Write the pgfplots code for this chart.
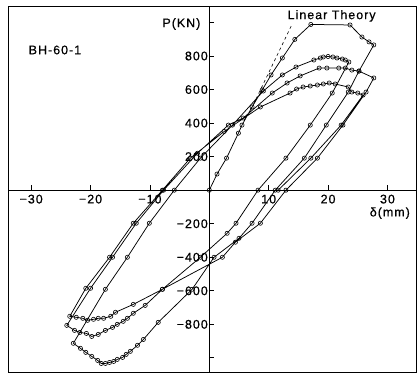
\documentclass[border=0pt]{standalone}
\usepackage{pgfplots}
\pgfplotsset{compat=1.18}
\usepackage{fontspec}
\setmainfont{Liberation Sans}[LetterSpace=8, FakeBold=0.6]
\begin{document}
\begin{tikzpicture}
\begin{axis}[
 scale only axis, width=408bp, height=366bp,
 xmin=-33.9, xmax=34.9, ymin=-1087, ymax=1098,
 axis lines=middle, axis line style={-, line width=0.9pt},
 xtick={-30,-20,-10,0,10,20,30},
 xticklabels={−30,−20,−10,\llap{0\hspace{3bp}},10,20,30},
 ytick={-1000,-800,-600,-400,-200,200,400,600,800,1000},
 yticklabels={,−800,−600,−400,−200,200,400,600,800,},
 tick align=inside, major tick length=5bp,
 tick style={black, line width=0.8pt},
 ticklabel style={font=\fontsize{12.5}{13}\selectfont},
 xticklabel style={yshift=-1bp},
 yticklabel style={xshift=2bp},
 clip=false,
]
\draw[line width=0.9pt] (rel axis cs:0,0) rectangle (rel axis cs:1,1);
\path (rel axis cs:0,0) ++(-8bp,-2bp);
\path (rel axis cs:1,1) ++(0bp,6bp);
\addplot[black, dashed, line width=0.6pt] coordinates {(7.0,480) (13.8,979)};
\addplot[black, line width=0.75pt, mark=o, mark size=2.1bp, mark options={fill=white, line width=0.6pt, solid}] coordinates {
(0,0) (1.3,96) (2.9,191) (4.9,340) (5.5,388) (7.2,496) (8.9,597) (10.4,687) (12.3,788) (14.4,899) (17.1,988) (23.7,985) (25.7,913) (26.9,884) (27.7,866)
(25.2,710) (23.4,585) (19.7,388) (16,191) (11.1,0) (7.2,-197) (5,-287) (0.8,-400) (-2.9,-591) (-8.6,-788) (-11.1,-890) (-12.1,-925) (-13.3,-961) (-14,-979) (-14.6,-997) (-15.5,-1009) (-16.1,-1021) (-16.8,-1027) (-17.5,-1033) (-18.2,-1033) (-18.8,-1015) (-19.8,-991) (-20.8,-967) (-21.7,-943) (-22.9,-913)
(-17.5,-591) (-13.8,-400) (-10.1,-197) (-5.9,0) (-1.5,191) (3.9,388) (9.1,591)
(12.3,687) (14.6,734) (17.6,776) (18.7,788) (19.2,794) (20,797) (20.8,794) (21.5,788) (22.4,782) (22.9,776) (23.5,764)
(20.7,579) (17,388) (12.9,191) (8.2,0) (4.5,-197) (3,-257) (-1.5,-400) (-7.9,-591)
(-10.8,-687) (-12.8,-734) (-13.8,-764) (-14.5,-782) (-15.5,-800) (-16.3,-818) (-17.5,-836) (-18.7,-860) (-19.8,-872) (-20.7,-854) (-21.8,-848) (-22.7,-836) (-24,-806)
(-20,-585) (-16.3,-400) (-12.3,-197) (-7.7,0) (-2,220) (3.2,388) (5.7,430) (10.6,579) (13.1,639) (15.3,681) (18.5,728) (19.8,728) (21.8,728) (22.9,728) (24,716) (25.2,710) (27.7,669)
(26.4,585) (22.5,388) (18.2,191) (12.9,0) (8.6,-197) (4.4,-310) (2.2,-400) (-7.9,-591)
(-12.8,-681) (-15.8,-728) (-16.6,-752) (-17.8,-764) (-18.7,-764) (-19.5,-770) (-20.5,-776) (-21.3,-764) (-22.4,-758) (-23.5,-752)
(-20.8,-585) (-16.8,-400) (-12.8,-197) (-7.9,0) (-3.2,191) (2.5,350) (8.6,496) (13.6,579) (14.7,603) (15.8,615) (17,621) (18.2,627) (19.2,633) (20.2,639) (21.2,633) (23.4,615) (24,585) (25,579) (25.9,567)
(22.2,388) (17.1,191) (11.6,0)
};
\node[font=\fontsize{12.5}{13}\selectfont] at (axis cs:-4.7,991) {P(KN)};
\node[font=\fontsize{12.5}{13}\selectfont] at (axis cs:-26,836) {BH-60-1};
\node[font=\fontsize{12.5}{13}\selectfont] at (axis cs:20.6,1039) {Linear Theory};
\node[font=\fontsize{12.5}{13}\selectfont] at (axis cs:30.4,-137) {δ(mm)};
\end{axis}
\end{tikzpicture}
\end{document}
